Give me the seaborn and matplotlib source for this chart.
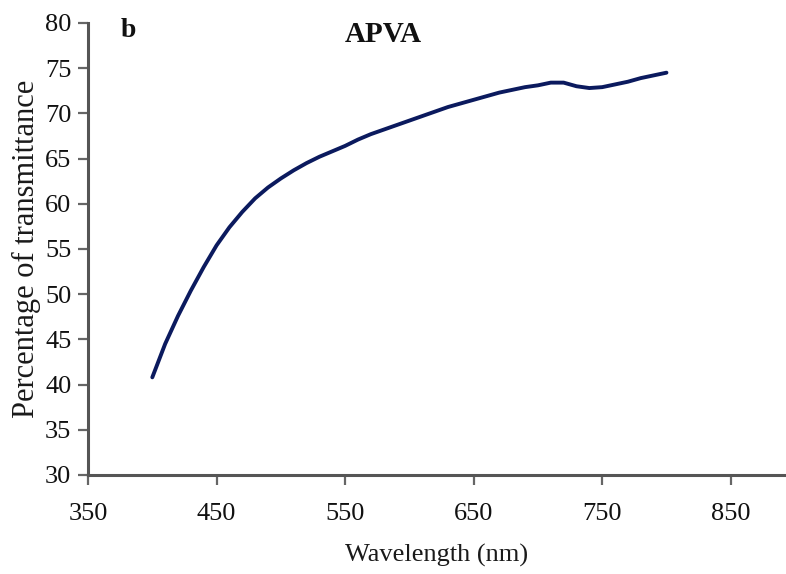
import matplotlib
matplotlib.use("Agg")
import matplotlib.pyplot as plt
import seaborn as sns
import pandas as pd

# Transmittance spectrum of the APVA film
wavelength = [400, 410, 420, 430, 440, 450, 460, 470, 480, 490, 500,
              510, 520, 530, 540, 550, 560, 570, 580, 590, 600,
              610, 620, 630, 640, 650, 660, 670, 680, 690, 700,
              710, 720, 730, 740, 750, 760, 770, 780, 790, 800]
transmittance = [40.8, 44.5, 47.6, 50.4, 53.0, 55.4, 57.4, 59.1, 60.6, 61.8, 62.8,
                 63.7, 64.5, 65.2, 65.8, 66.4, 67.1, 67.7, 68.2, 68.7, 69.2,
                 69.7, 70.2, 70.7, 71.1, 71.5, 71.9, 72.3, 72.6, 72.9, 73.1,
                 73.4, 73.4, 73.0, 72.8, 72.9, 73.2, 73.5, 73.9, 74.2, 74.5]
x_ticks = [350, 450, 550, 650, 750, 850]
y_ticks = [30, 35, 40, 45, 50, 55, 60, 65, 70, 75, 80]

df = pd.DataFrame({"Wavelength": wavelength, "Transmittance": transmittance})

sns.set_theme(style="ticks")
plt.rcParams["font.family"] = ["Liberation Serif", "DejaVu Serif"]

fig = plt.figure(figsize=(7.86, 5.74), dpi=100)
ax = fig.add_axes([0.112, 0.1725, 0.888, 0.7875])

sns.lineplot(data=df, x="Wavelength", y="Transmittance", ax=ax,
             color="#0b1a5e", linewidth=2.8)

ax.set_xlim(350, 893)
ax.set_ylim(30, 80)
ax.set_xticks(x_ticks)
ax.set_yticks(y_ticks)
ax.tick_params(axis="both", labelsize=19, colors="#666666", labelcolor="#111111",
               length=7, width=1.6, direction="out")
ax.tick_params(axis="x", pad=13)
ax.tick_params(axis="y", pad=5)
for side in ["top", "right"]:
    ax.spines[side].set_visible(False)
for side in ["left", "bottom"]:
    ax.spines[side].set_color("#555555")
    ax.spines[side].set_linewidth(2.2)

ax.set_xlabel("Wavelength (nm)", fontsize=19, color="#1a1a1a")
ax.set_ylabel("Percentage of transmittance", fontsize=22, color="#1a1a1a")
ax.xaxis.set_label_coords(0.5, -0.152)
ax.yaxis.set_label_coords(-0.068, 0.5)

ax.text(0.047, 1.01, "b", transform=ax.transAxes, fontsize=20,
        fontweight="bold", color="#111111", va="top", ha="left")
ax.text(0.423, 1.005, "APVA", transform=ax.transAxes, fontsize=21,
        fontweight="bold", color="#111111", va="top", ha="center")

fig.savefig("out.png", dpi=100, facecolor="white")
